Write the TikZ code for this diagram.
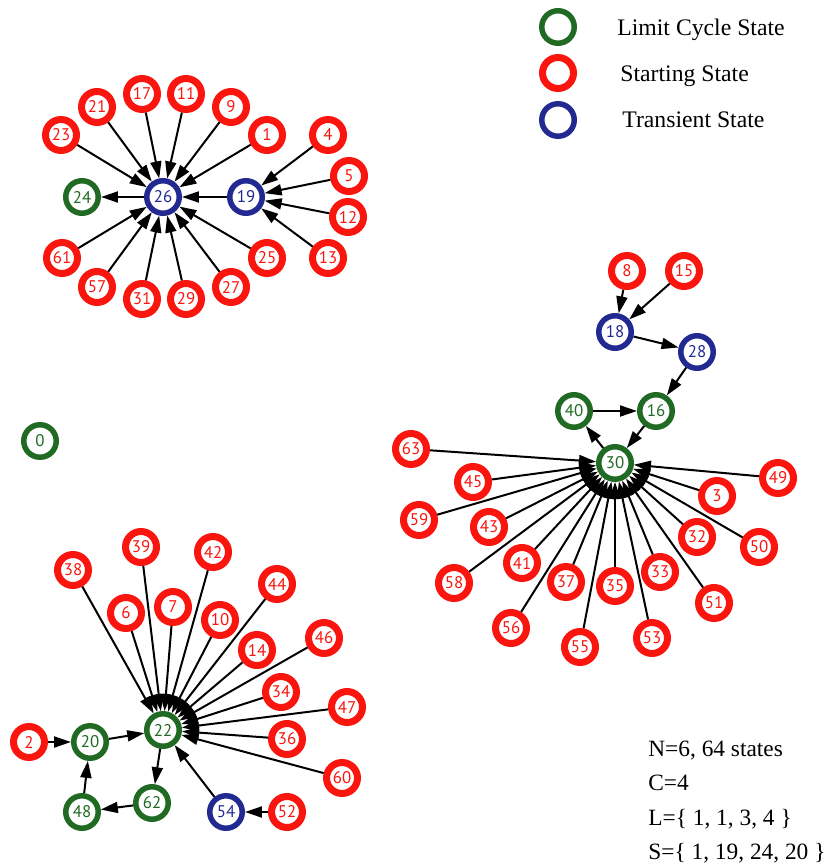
\documentclass[tikz,border=0pt]{standalone}
\usepackage{fontspec}
\setmainfont{Liberation Serif}
\newfontfamily\labfont{PT Sans}
\usetikzlibrary{arrows.meta}
\definecolor{lcgreen}{RGB}{32,106,36}
\definecolor{stred}{RGB}{250,22,14}
\definecolor{trblue}{RGB}{34,42,146}
\tikzset{
  basenode/.style={circle, inner sep=0pt, fill=white, font=\labfont\fontsize{9.6}{10}\selectfont},
  lc/.style={basenode, draw=lcgreen, text=lcgreen, line width=0.11cm, minimum size=0.65cm},
  st/.style={basenode, draw=stred, text=stred, line width=0.14cm, minimum size=0.62cm},
  tr/.style={basenode, draw=trblue, text=trblue, line width=0.11cm, minimum size=0.65cm},
  conn/.style={line width=0.04cm, -{Triangle[length=0.34cm,width=0.22cm]}},
  legtext/.style={anchor=base west, inner sep=0pt, font=\fontsize{13.5}{16}\selectfont},
  stattext/.style={anchor=base west, inner sep=0pt, font=\fontsize{13.3}{16}\selectfont}
}
\begin{document}
\begin{tikzpicture}[x=0.02cm,y=-0.02cm]
\useasboundingbox (0,0) rectangle (831,864);
% legend
\node[lc] (legA) at (558,27) {};
\node[st] (legB) at (558,73) {};
\node[tr] (legC) at (558,120) {};
\node[legtext] (legAt) at (617,36) {Limit Cycle State};
\node[legtext] (legBt) at (620,82) {Starting State};
\node[legtext] (legCt) at (622,128) {Transient State};
% stats
\node[stattext] (s1) at (648,756) {N=6, 64 states};
\node[stattext] (s2) at (648,790) {C=4};
\node[stattext] (s3) at (648,825) {L=\{ 1, 1, 3, 4 \}};
\node[stattext] (s4) at (648,859) {S=\{ 1, 19, 24, 20 \}};
% isolated
\node[lc] (n0) at (40,441) {0};
% top-left cluster
\node[tr] (n26) at (163,197) {26};
\node[lc] (n24) at (82,197) {24};
\node[tr] (n19) at (246,197) {19};
\node[st] (n23) at (61,135) {23};
\node[st] (n21) at (97,107) {21};
\node[st] (n17) at (142,94) {17};
\node[st] (n11) at (186,94) {11};
\node[st] (n9) at (231,107) {9};
\node[st] (n1) at (267,135) {1};
\node[st] (n4) at (328,135) {4};
\node[st] (n5) at (349,176) {5};
\node[st] (n12) at (348,217) {12};
\node[st] (n13) at (328,258) {13};
\node[st] (n61) at (62,258) {61};
\node[st] (n57) at (97,287) {57};
\node[st] (n31) at (142,299) {31};
\node[st] (n29) at (186,299) {29};
\node[st] (n27) at (231,287) {27};
\node[st] (n25) at (267,258) {25};
\foreach \s in {23,21,17,11,9,1,61,57,31,29,27,25,19} \draw[conn] (n\s) -- (n26);
\draw[conn] (n26) -- (n24);
\foreach \s in {4,5,12,13} \draw[conn] (n\s) -- (n19);
% right cluster
\node[st] (n8) at (627,271) {8};
\node[st] (n15) at (684,271) {15};
\node[tr] (n18) at (615,332) {18};
\node[tr] (n28) at (697,352) {28};
\node[lc] (n40) at (574,411) {40};
\node[lc] (n16) at (656,411) {16};
\node[lc] (n30) at (615,463) {30};
\node[st] (n63) at (411,449) {63};
\node[st] (n45) at (473,482) {45};
\node[st] (n59) at (419,520) {59};
\node[st] (n43) at (489,527) {43};
\node[st] (n58) at (454,583) {58};
\node[st] (n41) at (522,563) {41};
\node[st] (n56) at (511,628) {56};
\node[st] (n37) at (566,582) {37};
\node[st] (n55) at (580,647) {55};
\node[st] (n35) at (615,586) {35};
\node[st] (n53) at (652,638) {53};
\node[st] (n33) at (660,572) {33};
\node[st] (n51) at (714,603) {51};
\node[st] (n32) at (697,537) {32};
\node[st] (n50) at (759,547) {50};
\node[st] (n3) at (717,496) {3};
\node[st] (n49) at (778,478) {49};
\draw[conn] (n8) -- (n18);
\draw[conn] (n15) -- (n18);
\draw[conn] (n18) -- (n28);
\draw[conn] (n28) -- (n16);
\draw[conn] (n40) -- (n16);
\draw[conn] (n16) -- (n30);
\draw[conn] (n30) -- (n40);
\foreach \s in {63,45,59,43,58,41,56,37,55,35,53,33,51,32,50,3,49} \draw[conn] (n\s) -- (n30);
% bottom-left cluster
\node[st] (n38) at (73,570) {38};
\node[st] (n39) at (141,547) {39};
\node[st] (n42) at (213,552) {42};
\node[st] (n6) at (126,613) {6};
\node[st] (n7) at (173,607) {7};
\node[st] (n10) at (220,620) {10};
\node[st] (n44) at (277,584) {44};
\node[st] (n14) at (257,650) {14};
\node[st] (n46) at (324,638) {46};
\node[st] (n34) at (281,692) {34};
\node[st] (n47) at (347,707) {47};
\node[st] (n36) at (287,739) {36};
\node[st] (n60) at (342,778) {60};
\node[lc] (n22) at (163,730) {22};
\node[lc] (n20) at (90,742) {20};
\node[st] (n2) at (29,742) {2};
\node[lc] (n48) at (82,812) {48};
\node[lc] (n62) at (152,803) {62};
\node[tr] (n54) at (226,812) {54};
\node[st] (n52) at (287,812) {52};
\draw[conn] (n2) -- (n20);
\draw[conn] (n20) -- (n22);
\draw[conn] (n22) -- (n62);
\draw[conn] (n62) -- (n48);
\draw[conn] (n48) -- (n20);
\draw[conn] (n54) -- (n22);
\draw[conn] (n52) -- (n54);
\foreach \s in {38,39,42,6,7,10,44,14,46,34,47,36,60} \draw[conn] (n\s) -- (n22);
\end{tikzpicture}
\end{document}
